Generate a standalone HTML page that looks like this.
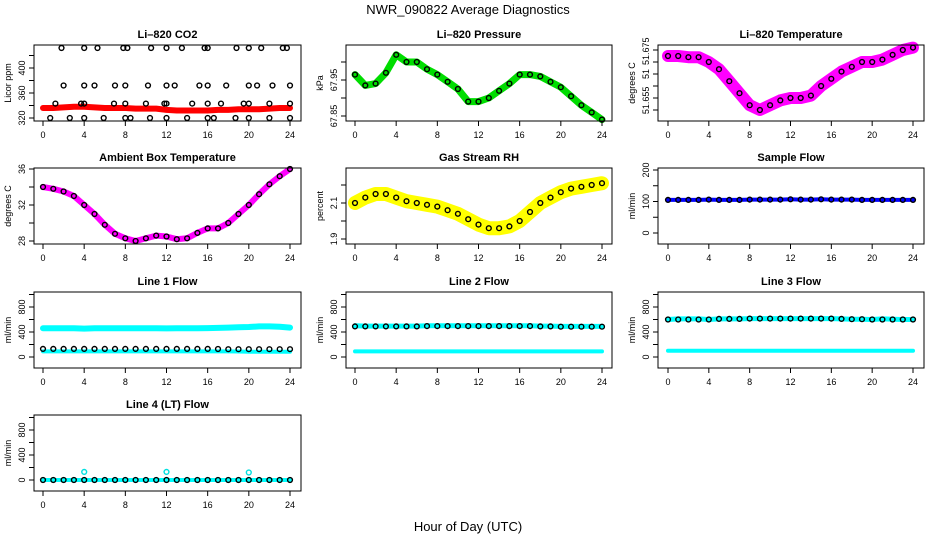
<!DOCTYPE html>
<html><head><meta charset="utf-8"><style>
html,body{margin:0;padding:0;background:#fff;}
svg{display:block;font-family:"Liberation Sans",Arial,sans-serif;}
</style></head><body>
<svg id="chart" width="936" height="540" viewBox="0 0 936 540" xmlns="http://www.w3.org/2000/svg">
<rect width="936" height="540" fill="#fff"/>
<text x="468" y="14" font-size="13" text-anchor="middle">NWR_090822  Average Diagnostics</text>
<text x="468" y="531" font-size="13" text-anchor="middle">Hour of Day (UTC)</text>
<g id="panels"></g>
</svg>
<script>
// hourly sample times
const hours = [0,1,2,3,4,5,6,7,8,9,10,11,12,13,14,15,16,17,18,19,20,21,22,23,24];
const xTickLabels = [0,4,8,12,16,20,24];

// CO2
const co2Band = [336,336,337,338,338,337,336,336,336,335,335,335,333,332,332,332,332,333,333,334,334,334,335,336,336];
const co2OutX = [1.8,4,5.3,7.8,8.2,10.5,12,13.5,15.7,16,18.8,20,21.2,23.3,23.7, 2,4,5,7,8,10.2,12,12.8,15.2,16,17.8,20,20.8,22.3,24, 1.2,3.7,4,6.9,8,10,11.8,12,14.5,16,17.3,19.5,20,22,24, 0.7,2.6,4,5.9,8,8.5,10.4,12,14,16,16.6,18.7,20,22,24];
const co2OutY = [432,432,432,432,432,432,432,432,432,432,432,432,432,432,432, 372,372,372,372,372,372,372,372,372,372,372,372,372,372,372, 343,343,343,343,343,343,343,343,343,343,343,343,343,343,343, 320,320,320,320,320,320,320,320,320,320,320,320,320,320,320];
// Pressure
const pressure = [67.965,67.935,67.94,67.97,68.02,68.0,68.0,67.98,67.965,67.945,67.925,67.89,67.89,67.9,67.92,67.94,67.965,67.965,67.96,67.945,67.93,67.905,67.88,67.86,67.84];
// Li-820 temperature
const licorTemp = [51.6725,51.6725,51.672,51.672,51.670,51.667,51.662,51.657,51.652,51.650,51.652,51.654,51.655,51.655,51.656,51.660,51.663,51.666,51.668,51.670,51.670,51.671,51.673,51.675,51.676];
// Ambient box temperature
const ambient = [34,33.8,33.5,33,32,31,29.8,28.8,28.3,28,28.3,28.6,28.5,28.2,28.3,28.9,29.4,29.4,30,31,32,33.2,34.3,35.2,36];
// Gas stream RH
const rh = [2.10,2.13,2.15,2.15,2.13,2.11,2.10,2.09,2.08,2.06,2.04,2.01,1.98,1.96,1.96,1.97,2.00,2.05,2.10,2.13,2.16,2.18,2.19,2.20,2.21];
// Sample flow
const sampleFlow = [105,105,105,105,106,105,105,105,106,106,106,106,107,106,106,107,106,106,106,105,105,105,105,105,105];
// Line flows
const line1Hi = [460,460,460,460,455,460,460,460,460,460,460,460,458,460,460,460,462,465,470,475,480,490,490,485,470];
const line1Lo = [90,90,90,90,90,90,90,90,90,90,90,90,90,90,90,90,90,90,90,88,85,85,85,85,85];
const line1Black = [130,130,130,130,130,130,130,130,130,130,130,130,130,130,130,130,130,128,125,125,125,125,125,125,125];
const line2Hi = [500,495,495,495,495,495,495,500,500,500,500,500,500,500,500,500,500,500,495,495,490,490,490,490,490];
const line2Lo = [90,90,90,90,90,90,90,90,90,90,90,90,90,90,90,90,90,90,90,90,90,90,90,90,90];
const line2Black = [490,490,490,490,490,490,490,495,495,495,495,495,495,495,495,495,495,495,490,490,485,485,485,485,485];
const line3Hi = [600,610,610,610,600,610,610,610,615,615,615,615,615,615,615,615,615,610,605,605,600,610,605,600,600];
const line3Lo = [100,100,100,100,100,100,100,100,100,100,100,100,100,100,100,100,100,100,100,100,100,100,100,100,100];
const line3Black = [600,600,600,600,600,610,610,610,615,615,615,615,615,615,615,615,615,610,605,605,600,600,600,600,600];
const line4Cyan = [0,0,0,0,0,0,0,0,0,0,0,0,0,0,0,0,0,0,0,0,0,0,0,0,0];
const line4Black = [0,0,0,0,0,0,0,0,0,0,0,0,0,0,0,0,0,0,0,0,0,0,0,0,0];
const line4SpikeX = [4,12,20];
const line4SpikeY = [130,130,120];

const NS = "http://www.w3.org/2000/svg";
const root = document.getElementById('panels');
const cols = [{l:34,r:301,x0:43,x1:290},{l:346,r:612,x0:355,x1:602},{l:658,r:924,x0:668,x1:913}];
const rowsTop = [45,168,292,415];
const H = 76;

function mk(tag, attrs, parent){const e=document.createElementNS(NS,tag);for(const k in attrs)e.setAttribute(k,attrs[k]);(parent||root).appendChild(e);return e;}

function panel(ci, ri, title, ylab, v0, p0, v1, p1, ticks, labels, series, id){
  const c = cols[ci], top = rowsTop[ri], bot = top + H;
  const g = mk('g', {});
  
  
  const X = h => c.x0 + (h / 24) * (c.x1 - c.x0);
  const Y = v => p0 + (v - v0) / (v1 - v0) * (p1 - p0);
  const t = mk('text', {x:(c.l+c.r)/2, y:top-7, 'font-size':11, 'font-weight':'bold', 'text-anchor':'middle'}, g);
  t.textContent = title;
  
  
  // series
  const sg = mk('g', {}, g);
  
  
  series.forEach(s => {
    if (s.type === 'band') {
      const d = s.x.map((h,i)=>(i?'L':'M')+X(h).toFixed(1)+','+Y(s.y[i]).toFixed(1)).join('');
      const p = mk('path', {d:d, fill:'none', stroke:s.color, 'stroke-width':s.w, 'stroke-linejoin':'round', 'stroke-linecap':'round'}, sg);
      
      
    } else {
      s.x.forEach((h,i)=>{
        const cc = mk('circle', {cx:X(h).toFixed(1), cy:Y(s.y[i]).toFixed(1), r:2.4, fill:'none', stroke:s.color, 'stroke-width':1.4}, sg);
        
        
      });
    }
  });
  // box
  const b = mk('rect', {x:c.l, y:top, width:c.r-c.l, height:H, fill:'none', stroke:'#000', 'stroke-width':1}, g);
  
  
  // x axis
  xTickLabels.forEach(h=>{
    mk('line', {x1:X(h), x2:X(h), y1:bot, y2:bot+5, stroke:'#000'}, g);
    const tl = mk('text', {x:X(h), y:bot+17, 'font-size':9, 'text-anchor':'middle'}, g);
    tl.textContent = h;
    
    
  });
  // y axis
  ticks.forEach(v=>{ mk('line', {x1:c.l-5, x2:c.l, y1:Y(v), y2:Y(v), stroke:'#000'}, g); });
  labels.forEach(lb=>{
    const y = Y(lb[0]);
    const tl = mk('text', {x:0, y:0, 'font-size':9, 'text-anchor':'middle', transform:`translate(${c.l-9},${y}) rotate(-90)`}, g);
    tl.textContent = lb[1];
    
    
  });
  const yt = mk('text', {x:0, y:0, 'font-size':9, 'text-anchor':'middle', transform:`translate(${c.l-23},${top+H/2}) rotate(-90)`}, g);
  yt.textContent = ylab;
  
  
}

panel(0,0,'Li–820 CO2','Licor ppm',320,118,400,68,[320,340,360,380,400,420],[[320,'320'],[360,'360'],[400,'400']],
  [{type:'band',x:hours,y:co2Band,color:'#ff0000',w:6},{type:'pts',x:co2OutX,y:co2OutY,color:'#000'}],'co2');
panel(1,0,'Li–820 Pressure','kPa',67.85,116,67.95,80,[67.85,67.9,67.95,68.0],[[67.85,'67.85'],[67.95,'67.95']],
  [{type:'band',x:hours,y:pressure,color:'#00dd00',w:7},{type:'pts',x:hours,y:pressure,color:'#000'}],'pressure');
panel(2,0,'Li–820 Temperature','degrees C',51.65,110,51.675,50,[51.65,51.655,51.66,51.665,51.67,51.675],[[51.6745,'51.675'],[51.665,'51'],[51.654,'51.655']],
  [{type:'band',x:hours,y:licorTemp,color:'#ff00ff',w:12},{type:'pts',x:hours,y:licorTemp,color:'#000'}],'licor-temp');
panel(0,1,'Ambient Box Temperature','degrees C',28,241,36,169,[28,30,32,34,36],[[28,'28'],[32,'32'],[36,'36']],
  [{type:'band',x:hours,y:ambient,color:'#ff00ff',w:6},{type:'pts',x:hours,y:ambient,color:'#000'}],'ambient');
panel(1,1,'Gas Stream RH','percent',1.9,239,2.1,203,[1.9,2.0,2.1,2.2],[[1.9,'1.9'],[2.1,'2.1']],
  [{type:'band',x:hours,y:rh,color:'#ffff00',w:14},{type:'pts',x:hours,y:rh,color:'#000'}],'rh');
panel(2,1,'Sample Flow','ml/min',0,233,200,170,[0,50,100,150,200],[[0,'0'],[100,'100'],[200,'200']],
  [{type:'band',x:hours,y:sampleFlow,color:'#0000ff',w:4},{type:'pts',x:hours,y:sampleFlow,color:'#000'}],'sample-flow');
const flowTicks=[0,200,400,600,800,1000], flowLabels=[[0,'0'],[400,'400'],[800,'800']];
panel(0,2,'Line 1 Flow','ml/min',0,357,800,307,flowTicks,flowLabels,
  [{type:'band',x:hours,y:line1Hi,color:'#00ffff',w:6},{type:'band',x:hours,y:line1Lo,color:'#00ffff',w:4},{type:'pts',x:hours,y:line1Black,color:'#000'}],'line1');
panel(1,2,'Line 2 Flow','ml/min',0,357,800,307,flowTicks,flowLabels,
  [{type:'band',x:hours,y:line2Hi,color:'#00ffff',w:5},{type:'band',x:hours,y:line2Lo,color:'#00ffff',w:4},{type:'pts',x:hours,y:line2Black,color:'#000'}],'line2');
panel(2,2,'Line 3 Flow','ml/min',0,357,800,307,flowTicks,flowLabels,
  [{type:'band',x:hours,y:line3Hi,color:'#00ffff',w:5},{type:'band',x:hours,y:line3Lo,color:'#00ffff',w:4},{type:'pts',x:hours,y:line3Black,color:'#000'}],'line3');
panel(0,3,'Line 4 (LT) Flow','ml/min',0,480,800,430,flowTicks,flowLabels,
  [{type:'band',x:hours,y:line4Cyan,color:'#00ffff',w:4},{type:'pts',x:line4SpikeX,y:line4SpikeY,color:'#00e0e0'},{type:'pts',x:hours,y:line4Black,color:'#000'}],'line4');
</script>
</body></html>
